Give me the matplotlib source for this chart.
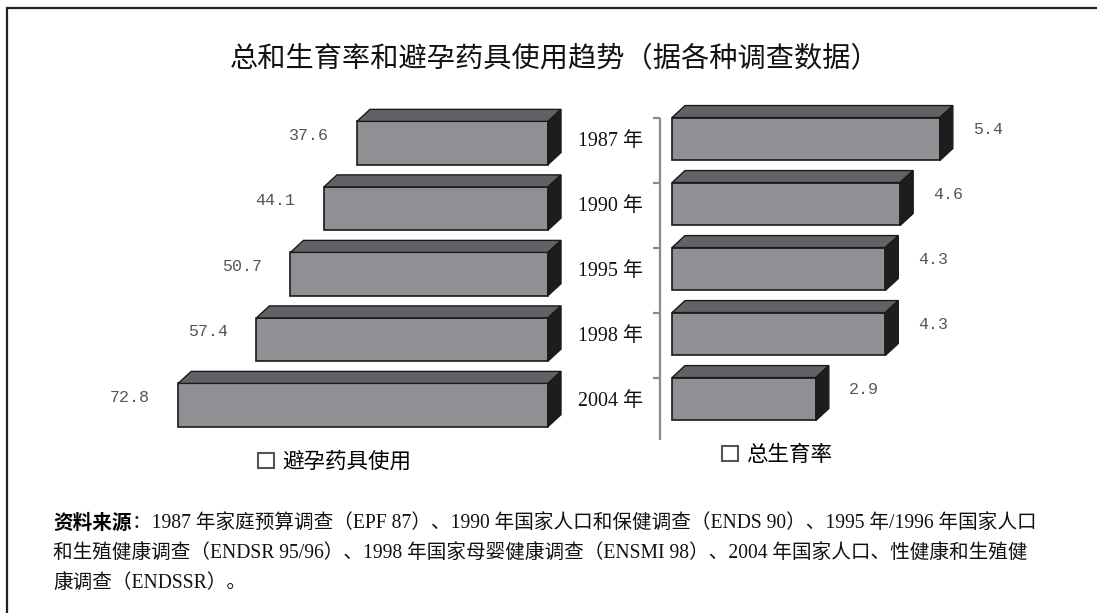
import matplotlib
matplotlib.use("Agg")
import matplotlib.pyplot as plt
from matplotlib.patches import Polygon, Patch, Rectangle

# data
years = ["1987 年", "1990 年", "1995 年", "1998 年", "2004 年"]
contraceptive_use = [37.6, 44.1, 50.7, 57.4, 72.8]
fertility_rate = [5.4, 4.6, 4.3, 4.3, 2.9]

title = "总和生育率和避孕药具使用趋势（据各种调查数据）"
legend_left = "避孕药具使用"
legend_right = "总生育率"
source_bold = "资料来源"
source_lines = [
    "：1987 年家庭预算调查（EPF 87）、1990 年国家人口和保健调查（ENDS 90）、1995 年/1996 年国家人口",
    "和生殖健康调查（ENDSR 95/96）、1998 年国家母婴健康调查（ENSMI 98）、2004 年国家人口、性健康和生殖健",
    "康调查（ENDSSR）。",
]

W, H = 1097, 613
SERIF = ["Liberation Serif", "Noto Sans CJK SC"]
CJK = ["Noto Sans CJK SC", "DejaVu Sans"]
FRONT = "#8f9094"
TOP = "#626266"
SIDE = "#1d1d1d"
EDGE = "#1a1a1a"
BAR_H = 0.66
DEPTH_PX = (13, 12)   # right, up


def px_axes(fig, x0, y0, x1, y1):
    return fig.add_axes([x0 / W, 1 - y1 / H, (x1 - x0) / W, (y1 - y0) / H])


def depth(ax):
    bb = ax.get_window_extent()
    xl, yl = ax.get_xlim(), ax.get_ylim()
    dx = DEPTH_PX[0] * (xl[1] - xl[0]) / bb.width
    dy = DEPTH_PX[1] * (yl[1] - yl[0]) / bb.height
    return dx, dy


def bar3d(ax, i, v, side_at_value):
    dx, dy = depth(ax)
    yt, yb = i - BAR_H / 2, i + BAR_H / 2
    ax.barh(i, v, height=BAR_H, color=FRONT, edgecolor=EDGE, linewidth=1.2, zorder=3)
    top = [(0, yt), (v, yt), (v + dx, yt + dy), (dx, yt + dy)]
    xs = v if side_at_value else 0
    side = [(xs, yt), (xs, yb), (xs + dx, yb + dy), (xs + dx, yt + dy)]
    ax.add_patch(Polygon(top, closed=True, facecolor=TOP, edgecolor=EDGE, linewidth=1.0, zorder=3))
    ax.add_patch(Polygon(side, closed=True, facecolor=SIDE, edgecolor=EDGE, linewidth=1.0, zorder=3))


fig = plt.figure(figsize=(W / 100, H / 100), dpi=100)

# left panel: contraceptive use, bars grow to the left
axl = px_axes(fig, 60, 90, 580, 440)
axl.set_xlim(96.06, -6.3)
axl.set_ylim(4.534, -0.809)
axl.axis("off")
for i, v in enumerate(contraceptive_use):
    bar3d(axl, i, v, side_at_value=False)
    axl.text(v + 5.6, i - 0.12, f"{v:.1f}", ha="right", va="center",
             family="Liberation Mono", fontsize=12, color="#555555")

# right panel: total fertility rate
axr = px_axes(fig, 600, 90, 1080, 440)
axr.set_xlim(-1.452, 8.226)
axr.set_ylim(4.63, -0.754)
axr.axis("off")
for i, v in enumerate(fertility_rate):
    bar3d(axr, i, v, side_at_value=True)
    axr.text(v + 0.67, i - 0.14, f"{v:.1f}", ha="left", va="center",
             family="Liberation Mono", fontsize=12, color="#555555")
    axr.text(-1.25, i + 0.04, years[i], ha="center", va="center",
             family=SERIF, fontsize=14.4, color="#111111")

# bracket axis between panels
tick_y = [k - BAR_H / 2 for k in range(len(years) + 1)]
axr.vlines(-0.242, tick_y[0], tick_y[-1], color="#8a8a8a", linewidth=1.6)
axr.hlines(tick_y, -0.38, -0.242, color="#8a8a8a", linewidth=1.6)

# legends
box = Patch(facecolor="white", edgecolor="#555555", linewidth=1.5)
fig.legend([box], [legend_left], loc="center left", bbox_to_anchor=(247 / W, 1 - 462 / H),
           frameon=False, prop={"family": CJK, "size": 15.5}, handlelength=0.75, handleheight=0.75,
           handletextpad=0.4, borderpad=0)
fig.legend([box], [legend_right], loc="center left", bbox_to_anchor=(711 / W, 1 - 455 / H),
           frameon=False, prop={"family": CJK, "size": 15.5}, handlelength=0.75, handleheight=0.75,
           handletextpad=0.4, borderpad=0)

# title
fig.text(555 / W, 1 - 58 / H, title, ha="center", va="center", family=CJK, fontsize=20.3, color="#111111")

# source note
t = fig.text(53 / W, 1 - 523 / H, source_bold, ha="left", va="center", family=CJK,
             fontsize=14.1, fontweight="bold", color="#000000")
plt.annotate(source_lines[0], xy=(1, 0.5), xycoords=t, ha="left", va="center",
             family=SERIF, fontsize=14.1, color="#111111", annotation_clip=False)
for k, line in enumerate(source_lines[1:]):
    fig.text(53 / W, 1 - (553 + 30 * k) / H, line, ha="left", va="center", family=SERIF,
             fontsize=14.1, color="#111111")

# frame (left and top edges visible)
fig.add_artist(Rectangle((7 / W, -0.1), 1.2, 1.1 - 8 / H, transform=fig.transFigure,
                         fill=False, edgecolor="#222222", linewidth=1.6))

fig.savefig("out.png", dpi=100)
